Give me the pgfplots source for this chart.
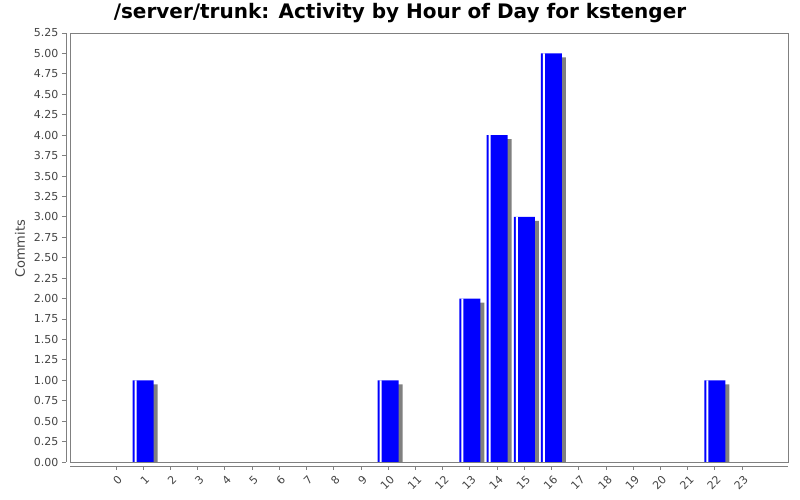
\documentclass[border=0pt]{standalone}
\usepackage{pgfplots}
\pgfplotsset{compat=1.18}
\usepackage{pgfplotstable}
\usepackage{fontspec}
\setmainfont{DejaVu Sans}

\definecolor{barblue}{RGB}{0,0,255}
\definecolor{shadowgray}{RGB}{128,128,128}
\definecolor{axisgray}{RGB}{128,128,128}
\definecolor{labelgray}{RGB}{68,68,68}

% commits per hour of day
\pgfplotstableread{
hour commits
0 0
1 1
2 0
3 0
4 0
5 0
6 0
7 0
8 0
9 0
10 1
11 0
12 0
13 2
14 4
15 3
16 5
17 0
18 0
19 0
20 0
21 0
22 1
23 0
}\hourdata

\begin{document}
\begin{tikzpicture}
\useasboundingbox (0pt,0pt) rectangle (800pt,500pt);
\node[font=\bfseries\fontsize{20}{23}\selectfont] at (400pt,487pt)
  {/server/trunk: Activity by Hour of Day for kstenger};
\node[rotate=90, font=\fontsize{13}{15}\selectfont, text=labelgray] at (20pt,251pt) {Commits};
\begin{axis}[
    at={(70pt,38pt)}, anchor=south west,
    scale only axis,
    width=718pt, height=429pt,
    xmin=-1.69, xmax=24.69,
    ymin=0, ymax=5.25,
    ybar, bar width=21pt,
    axis x line*=bottom, axis y line*=left,
    axis x line shift=4pt, axis y line shift=4pt,
    axis line style={axisgray},
    tick style={axisgray, line width=0.8pt},
    tick align=outside,
    major tick length=4pt,
    xtick={0,...,23},
    ytick={0,0.25,...,5.25},
    ticklabel style={font=\fontsize{11}{13}\selectfont, text=labelgray},
    /pgf/number format/assume math mode=true,
    yticklabel style={/pgf/number format/.cd, fixed, fixed zerofill, precision=2},
    xticklabel style={xshift=6.5pt, yshift=-5pt, rotate=45, anchor=east},
    restrict y to domain=0.01:100,
    extra description/.code={
        \draw[axisgray] (0,0) rectangle (1,1);
    },
]
\addplot[fill=shadowgray, draw=none, bar shift=4pt, yshift=-4pt]
  table[x=hour, y=commits] {\hourdata};
\addplot[fill=barblue, draw=none, bar shift=0pt]
  table[x=hour, y=commits] {\hourdata};
\addplot[fill=white, draw=none, bar shift=-7.5pt, bar width=2pt]
  table[x=hour, y=commits] {\hourdata};
\end{axis}
\end{tikzpicture}
\end{document}
